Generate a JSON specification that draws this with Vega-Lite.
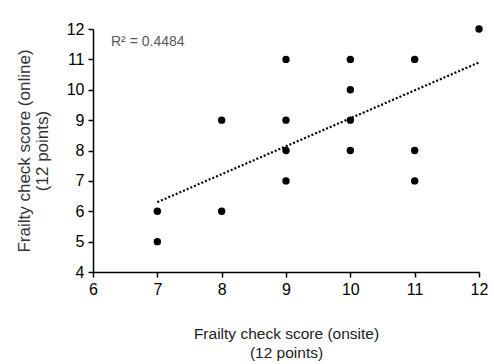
{
  "$schema": "https://vega.github.io/schema/vega-lite/v6.json",
  "width": 386,
  "height": 243,
  "autosize": {"type": "none"},
  "padding": {"left": 93, "top": 29, "right": 15, "bottom": 92},
  "background": "white",
  "config": {
    "view": {"stroke": null},
    "font": "Liberation Sans",
    "axis": {
      "grid": false,
      "domainColor": "#000000",
      "domainWidth": 1.5,
      "tickColor": "#000000",
      "tickWidth": 1.5,
      "tickSize": 5,
      "labelColor": "#000000",
      "labelFontSize": 16,
      "titleFontWeight": "normal"
    }
  },
  "datasets": {
    "points": [
      {"onsite": 7, "online": 5},
      {"onsite": 7, "online": 6},
      {"onsite": 8, "online": 6},
      {"onsite": 8, "online": 9},
      {"onsite": 9, "online": 7},
      {"onsite": 9, "online": 8},
      {"onsite": 9, "online": 9},
      {"onsite": 9, "online": 11},
      {"onsite": 10, "online": 8},
      {"onsite": 10, "online": 9},
      {"onsite": 10, "online": 10},
      {"onsite": 10, "online": 11},
      {"onsite": 11, "online": 7},
      {"onsite": 11, "online": 8},
      {"onsite": 11, "online": 11},
      {"onsite": 12, "online": 12}
    ],
    "trend": [
      {"onsite": 7, "online": 6.3},
      {"onsite": 12, "online": 10.9}
    ],
    "label": [
      {"onsite": 6.28, "online": 11.57, "text": "R² = 0.4484"}
    ]
  },
  "encoding": {
    "x": {
      "field": "onsite",
      "type": "quantitative",
      "scale": {"domain": [6, 12], "nice": false, "zero": false},
      "axis": {
        "values": [6, 7, 8, 9, 10, 11, 12],
        "format": "d",
        "labelOverlap": false,
        "labelFlush": false,
        "labelPadding": 4,
        "title": ["Frailty check score (onsite)", "(12 points)"],
        "titleFontSize": 15.5,
        "titleLineHeight": 19,
        "titlePadding": 29,
        "titleColor": "#222222"
      }
    },
    "y": {
      "field": "online",
      "type": "quantitative",
      "scale": {"domain": [4, 12], "nice": false, "zero": false},
      "axis": {
        "values": [4, 5, 6, 7, 8, 9, 10, 11, 12],
        "format": "d",
        "labelOverlap": false,
        "labelFlush": false,
        "labelPadding": 4,
        "title": ["Frailty check score (online)", "(12 points)"],
        "titleFontSize": 17,
        "titleLineHeight": 18,
        "titlePadding": 15,
        "titleColor": "#333333"
      }
    }
  },
  "layer": [
    {
      "data": {"name": "trend"},
      "mark": {"type": "line", "color": "#000000", "strokeWidth": 2.2, "strokeDash": [2, 2]}
    },
    {
      "data": {"name": "points"},
      "mark": {"type": "point", "filled": true, "color": "#000000", "opacity": 1, "size": 55}
    },
    {
      "data": {"name": "label"},
      "mark": {"type": "text", "align": "left", "baseline": "middle", "fontSize": 14, "color": "#595959"},
      "encoding": {
        "text": {"field": "text"}
      }
    }
  ]
}
